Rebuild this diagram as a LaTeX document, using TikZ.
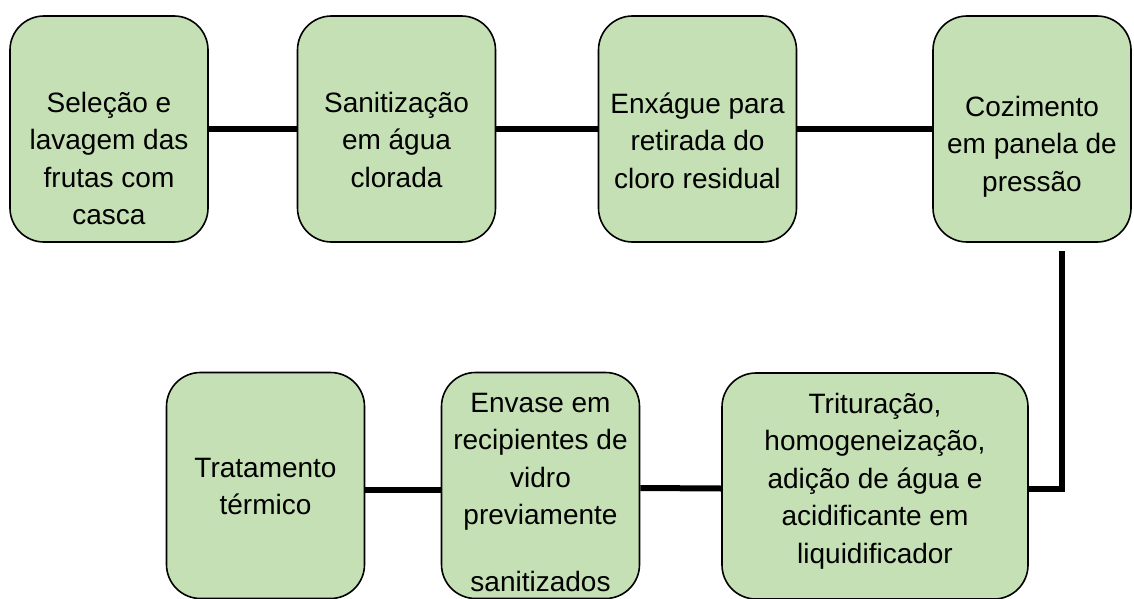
\documentclass[tikz,border=0pt]{standalone}
\usepackage{fontspec}
\setmainfont{Liberation Sans}
\usetikzlibrary{calc}
\definecolor{stagegreen}{HTML}{C5E0B4}

\tikzset{
	stage/.style={draw=black, line width=1.6pt, fill=stagegreen, rounded corners=34pt,
		minimum width=198pt, minimum height=226pt, inner sep=0pt},
	stagetext/.style={anchor=north, align=center, inner sep=0pt,
		font=\fontsize{28}{37.5}\selectfont},
	link/.style={line width=6pt}
}

\begin{document}
\begin{tikzpicture}[x=1pt, y=-1pt]
			%%%%% START %%%%%
			
			\useasboundingbox (0, 0) rectangle (1134, 599);
			
			% connectors first, so the boxes sit on top
			\coordinate (drop) at (1062, 251);
			
			% top row
			\node[stage] (b1) at (109, 129) {};
			\node[stage] (b2) at (396.5, 129) {};
			\node[stage] (b3) at (697.5, 129) {};
			\node[stage] (b4) at (1032, 129) {};
			
			% bottom row
			\node[stage] (b5) at (265.5, 485.5) {};
			\node[stage] (b6) at (540.5, 485.5) {};
			\node[stage, minimum width=306pt] (b7) at (875, 486) {};
			
			\draw[link] (b1.east) -- (b2.west);
			\draw[link] (b2.east) -- (b3.west);
			\draw[link] (b3.east) -- (b4.west);
			\draw[link] (drop) |- ([yshift=-2.5pt]b7.east);
			\draw[link] ([yshift=-2.5pt]b7.west) -- ([yshift=-2.5pt]b6.east);
			\draw[link] ([yshift=-4.5pt]b6.west) -- ([yshift=-4.5pt]b5.east);
			
			% texts
			\node[stagetext] (t1) at (109, 85.75) {\strut Seleção e\\lavagem das\\frutas com\\casca};
			\node[stagetext] (t2) at (396.5, 85.75) {\strut Sanitização\\em água\\clorada};
			\node[stagetext] (t3) at (697.5, 86.75) {\strut Enxágue para\\retirada do\\cloro residual};
			\node[stagetext] (t4) at (1032, 89.75) {\strut Cozimento\\em panela de\\pressão};
			\node[stagetext] (t5) at (265.5, 450.75) {\strut Tratamento\\térmico};
			\node[stagetext] (t6) at (540.5, 385.75) {\strut Envase em\\recipientes de\\vidro\\previamente\\[29pt]sanitizados};
			\node[stagetext] (t7) at (875, 386.75) {\strut Trituração,\\homogeneização,\\adição de água e\\acidificante em\\liquidificador};
			
			%%%%% END %%%%%
		\end{tikzpicture}
\end{document}
